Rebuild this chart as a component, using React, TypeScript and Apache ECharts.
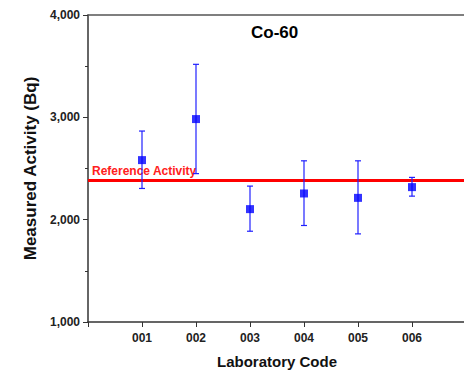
import React, { useEffect, useRef } from "react";
import * as echarts from "echarts";

const labCodes = ["001", "002", "003", "004", "005", "006"];
const measured = [2582, 2983, 2103, 2256, 2213, 2318];
const errLow = [2305, 2450, 1887, 1943, 1861, 2230];
const errHigh = [2866, 3518, 2328, 2575, 2575, 2413];
const referenceActivity = 2390;
const yTicks = [1000, 2000, 3000, 4000];

const FONT = "Liberation Sans, Arial, sans-serif";

export default function App() {
  const ref = useRef<HTMLDivElement>(null);
  useEffect(() => {
    if (!ref.current) return;
    const chart = echarts.init(ref.current, undefined, { renderer: "svg" });
    const points = measured.map((v, i) => [i + 1, v]);
    const bars = errLow.map((lo, i) => [i + 1, lo, errHigh[i]]);
    chart.setOption({
      animation: false,
      backgroundColor: "#ffffff",
      textStyle: { fontFamily: FONT },
      title: {
        text: "Co-60",
        left: 251,
        top: 24,
        padding: 0,
        textStyle: { fontSize: 17, fontWeight: "bold", color: "#000", fontFamily: FONT },
      },
      grid: {
        left: 88,
        top: 15,
        right: -2,
        bottom: 48,
        containLabel: false,
        outerBoundsMode: "none",
      },
      xAxis: [
        {
          type: "value",
          min: 0,
          max: 7,
          interval: 1,
          name: "Laboratory Code",
          nameLocation: "middle",
          nameGap: 32,
          nameTextStyle: { fontSize: 15, fontWeight: "bold", color: "#111", fontFamily: FONT },
          axisLine: { show: true, onZero: false, lineStyle: { color: "#333", width: 1.5 } },
          axisTick: { show: true, inside: false, length: 5, lineStyle: { color: "#333" } },
          splitLine: { show: false },
          axisLabel: {
            fontSize: 12,
            fontWeight: "bold",
            color: "#222",
            margin: 10,
            fontFamily: FONT,
            formatter: (v: number) => (v >= 1 && v <= labCodes.length ? labCodes[v - 1] : ""),
          },
        },
        {
          type: "value",
          position: "top",
          min: 0,
          max: 7,
          axisLine: { show: true, onZero: false, lineStyle: { color: "#555", width: 1.5 } },
          axisTick: { show: false },
          axisLabel: { show: false },
          splitLine: { show: false },
        },
      ],
      yAxis: {
        type: "value",
        min: yTicks[0],
        max: yTicks[yTicks.length - 1],
        interval: 1000,
        name: "Measured Activity (Bq)",
        nameLocation: "middle",
        nameGap: 48,
        nameTextStyle: { fontSize: 17, fontWeight: "bold", color: "#111", fontFamily: FONT },
        axisLine: { show: true, onZero: false, lineStyle: { color: "#333", width: 1.5 } },
        axisTick: { show: true, inside: false, length: 5, lineStyle: { color: "#333" } },
        minorTick: { show: true, splitNumber: 2, length: 3, lineStyle: { color: "#333" } },
        splitLine: { show: false },
        axisLabel: {
          fontSize: 12,
          fontWeight: "bold",
          color: "#222",
          margin: 8,
          fontFamily: FONT,
          formatter: (v: number) => v.toLocaleString("en-US"),
        },
      },
      series: [
        {
          type: "custom",
          data: bars,
          z: 3,
          renderItem: (params: any, api: any) => {
            const x = api.value(0);
            const lo = api.coord([x, api.value(1)]);
            const hi = api.coord([x, api.value(2)]);
            const w = 3;
            const style = { stroke: "#2020ff", lineWidth: 1.2 };
            return {
              type: "group",
              children: [
                { type: "line", shape: { x1: lo[0], y1: lo[1], x2: hi[0], y2: hi[1] }, style },
                { type: "line", shape: { x1: hi[0] - w, y1: hi[1], x2: hi[0] + w, y2: hi[1] }, style },
                { type: "line", shape: { x1: lo[0] - w, y1: lo[1], x2: lo[0] + w, y2: lo[1] }, style },
              ],
            };
          },
        },
        {
          type: "scatter",
          data: points,
          symbol: "rect",
          symbolSize: 8,
          z: 4,
          itemStyle: { color: "#0000ff" },
          markLine: {
            silent: true,
            symbol: "none",
            z: 2,
            lineStyle: { color: "#ff0000", width: 3, type: "solid" },
            label: {
              show: true,
              position: "insideStartTop",
              formatter: "Reference Activity",
              color: "#ff2020",
              fontWeight: "bold",
              fontSize: 12,
              fontFamily: FONT,
              distance: [4, 3],
            },
            data: [{ yAxis: referenceActivity }],
          },
        },
      ],
    });
    return () => chart.dispose();
  }, []);
  return (
    <div
      ref={ref}
      style={{ position: "fixed", left: 0, top: 0, width: 464, height: 370 }}
    />
  );
}
